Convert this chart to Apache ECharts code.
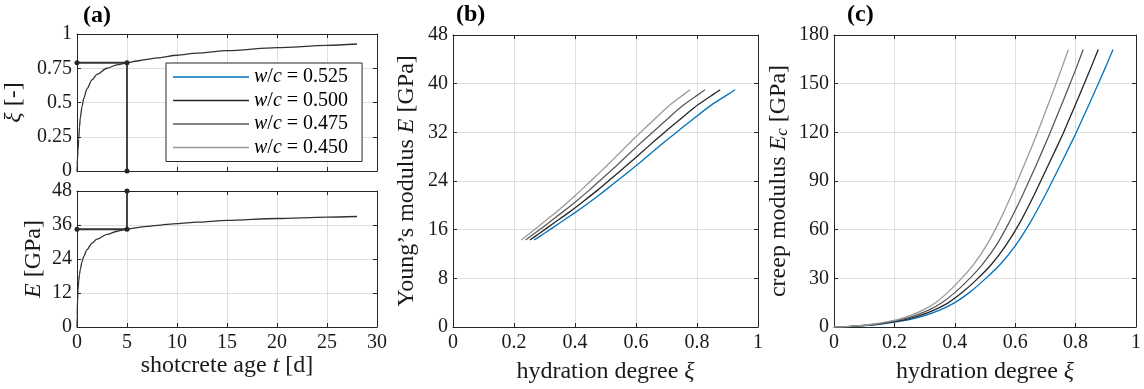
<!DOCTYPE html>
<html><head><meta charset="utf-8">
<script src="https://cdn.jsdelivr.net/npm/echarts@6/dist/echarts.min.js"></script>
<style>html,body{margin:0;padding:0;background:#fff}#c{width:1144px;height:389px}</style>
</head><body><div id="c"></div>
<script>
// ---------- data ----------
const ageDays = [0, 0.02, 0.05, 0.1, 0.17, 0.25, 0.33, 0.5, 0.67, 1, 1.5, 2, 3, 4, 5, 6, 7, 8, 10, 12, 15, 20, 25, 28];
const xiAge   = [0, 0.04, 0.09, 0.15, 0.23, 0.32, 0.39, 0.47, 0.53, 0.6, 0.665, 0.705, 0.75, 0.775, 0.79, 0.803, 0.815, 0.826, 0.845, 0.86, 0.878, 0.9, 0.917, 0.927];
const EAge    = [0, 4, 9, 13, 16.2, 18.5, 20.3, 23, 24.9, 27.3, 29.6, 31, 32.7, 33.8, 34.5, 35.1, 35.5, 35.9, 36.5, 37.0, 37.6, 38.3, 38.8, 39.0];
const markT   = [0, 5, 5];
const markXi  = [0.79, 0.79, 0];
const markE   = [34.5, 34.5, 48];

const wcNames  = ['w/c = 0.525', 'w/c = 0.500', 'w/c = 0.475', 'w/c = 0.450'];
const wcColors = ['#0072BD', '#262626', '#5a5a5a', '#9a9a9a'];

// panel (b): Young's modulus vs hydration degree
const EB     = [14.3, 15.4, 17.1, 18.8, 20.6, 22.5, 24.5, 26.5, 28.6, 30.7, 32.7, 34.7, 36.6, 38.2, 39.0];
const xiB525 = [0.266, 0.30, 0.35, 0.40, 0.45, 0.50, 0.55, 0.60, 0.65, 0.70, 0.75, 0.80, 0.85, 0.90, 0.925];
const xiB500 = [0.252, 0.284, 0.331, 0.379, 0.426, 0.474, 0.521, 0.568, 0.616, 0.663, 0.710, 0.758, 0.805, 0.852, 0.876];
const xiB475 = [0.238, 0.268, 0.313, 0.357, 0.402, 0.447, 0.491, 0.536, 0.580, 0.625, 0.670, 0.714, 0.759, 0.804, 0.826];
const xiB450 = [0.224, 0.252, 0.294, 0.336, 0.378, 0.420, 0.462, 0.504, 0.546, 0.588, 0.630, 0.672, 0.714, 0.756, 0.777];

// panel (c): creep modulus vs hydration degree
const EcC    = [0, 0.2, 0.8, 1.7, 3.0, 4.6, 7.0, 10.4, 15.0, 21.5, 29.5, 38.5, 50, 64.5, 81.5, 100, 119, 139.5, 160.5, 171];
const xiC525 = [0, 0.05, 0.1, 0.15, 0.2, 0.25, 0.3, 0.35, 0.4, 0.45, 0.5, 0.55, 0.6, 0.65, 0.7, 0.75, 0.8, 0.85, 0.9, 0.924];
const xiC500 = [0, 0.047, 0.095, 0.142, 0.189, 0.237, 0.284, 0.331, 0.379, 0.426, 0.474, 0.521, 0.568, 0.616, 0.663, 0.710, 0.758, 0.805, 0.852, 0.875];
const xiC475 = [0, 0.045, 0.089, 0.134, 0.179, 0.223, 0.268, 0.313, 0.357, 0.402, 0.447, 0.491, 0.536, 0.580, 0.625, 0.670, 0.714, 0.759, 0.804, 0.825];
const xiC450 = [0, 0.042, 0.084, 0.126, 0.168, 0.210, 0.252, 0.294, 0.336, 0.378, 0.420, 0.462, 0.504, 0.546, 0.588, 0.630, 0.672, 0.714, 0.756, 0.776];

// ---------- styling ----------
const FONT = 'Liberation Serif';
const INK = '#1a1a1a';
const FRAME = '#262626';
const GRIDC = '#dfdfdf';
const NAME_FS = 24;
const zip = (a, b) => a.map((v, i) => [v, b[i]]);
const richName = {
  i: { fontFamily: FONT, fontStyle: 'italic', fontSize: NAME_FS, color: INK },
  s: { fontFamily: FONT, fontStyle: 'italic', fontSize: 17, color: INK, verticalAlign: 'bottom' }
};
const nameStyle = { fontFamily: FONT, fontSize: NAME_FS, color: INK, rich: richName };

function axisPair(dim, gi, min, max, interval, showLabel, name, nameGap) {
  const main = {
    type: 'value', gridIndex: gi, min, max, interval,
    position: dim === 'x' ? 'bottom' : 'left',
    axisLine: { show: true, onZero: false, lineStyle: { color: FRAME, width: 1 } },
    axisTick: { show: true, inside: true, length: 4, lineStyle: { color: FRAME, width: 1 } },
    axisLabel: { show: showLabel, margin: dim === 'x' ? 6 : 5, fontFamily: FONT, fontSize: 20, color: INK },
    splitLine: { show: true, lineStyle: { color: GRIDC, width: 1 } },
    name: name || '', nameLocation: 'middle', nameGap: nameGap || 0, nameTextStyle: nameStyle
  };
  const mirror = {
    type: 'value', gridIndex: gi, min, max, interval,
    position: dim === 'x' ? 'top' : 'right',
    axisLine: { show: true, onZero: false, lineStyle: { color: FRAME, width: 1 } },
    axisTick: { show: true, inside: true, length: 4, lineStyle: { color: FRAME, width: 1 } },
    axisLabel: { show: false }, splitLine: { show: false }
  };
  return [main, mirror];
}

const xAxis = [
  ...axisPair('x', 0, 0, 30, 5, false),
  ...axisPair('x', 1, 0, 30, 5, true, 'shotcrete age {i|t} [d]', 26),
  ...axisPair('x', 2, 0, 1, 0.2, true, 'hydration degree {i|ξ}', 33),
  ...axisPair('x', 3, 0, 1, 0.2, true, 'hydration degree {i|ξ}', 33)
];
const yAxis = [
  ...axisPair('y', 0, 0, 1, 0.25, true, '{i|ξ} [-]', 51),
  ...axisPair('y', 1, 0, 48, 12, true, '{i|E} [GPa]', 31),
  ...axisPair('y', 2, 0, 48, 8, true, 'Young’s modulus {i|E} [GPa]', 34),
  ...axisPair('y', 3, 0, 180, 30, true, 'creep modulus {i|E}{s|c} [GPa]', 43)
];

const series = [];
const plain = (data, xi, yi, color, width, mono) => {
  const s = {
    type: 'line', data, xAxisIndex: xi, yAxisIndex: yi, showSymbol: false, symbol: 'none',
    smooth: mono ? 0.3 : 0.15, lineStyle: { color, width }, itemStyle: { color }, z: 3
  };
  if (mono) s.smoothMonotone = 'x';
  return s;
};
series.push(plain(zip(ageDays, xiAge), 0, 0, '#333333', 1.3, true));
series.push(plain(zip(ageDays, EAge), 2, 2, '#333333', 1.3, true));
const marker = (data, xi, yi) => ({
  type: 'line', data, xAxisIndex: xi, yAxisIndex: yi, symbol: 'circle', symbolSize: 5, showSymbol: true,
  clip: false, lineStyle: { color: '#333333', width: 1.8 }, itemStyle: { color: '#262626' }, z: 4
});
series.push(marker(zip(markT, markXi), 0, 0));
series.push(marker(zip(markT, markE), 2, 2));

const xiBs = [xiB525, xiB500, xiB475, xiB450];
const xiCs = [xiC525, xiC500, xiC475, xiC450];
wcNames.forEach((n, k) => {
  series.push(Object.assign(plain(zip(xiBs[k], EB), 4, 4, wcColors[k], 1.3), { name: n }));
  series.push(Object.assign(plain(zip(xiCs[k], EcC), 6, 6, wcColors[k], 1.3), { name: n }));
});

const titleStyle = { fontFamily: FONT, fontSize: 24, fontWeight: 'bold', color: '#000' };
const option = {
  animation: false,
  backgroundColor: '#fff',
  title: [
    { text: '(a)', left: 83, top: 4, padding: 0, textStyle: titleStyle },
    { text: '(b)', left: 456, top: 3, padding: 0, textStyle: titleStyle },
    { text: '(c)', left: 847, top: 3, padding: 0, textStyle: titleStyle }
  ],
  grid: [
    { left: 77, top: 34, width: 300, height: 137 },
    { left: 77, top: 191, width: 300, height: 136 },
    { left: 453, top: 35, width: 305, height: 292 },
    { left: 834, top: 35, width: 306, height: 292 }
  ],
  xAxis, yAxis,
  legend: {
    data: wcNames, orient: 'vertical', left: 166, top: 63,
    padding: [4, 14, 4, 7], itemGap: 3.5, itemWidth: 76, itemHeight: 1.5, icon: 'rect',
    backgroundColor: '#fff', borderColor: FRAME, borderWidth: 1, borderRadius: 0,
    selectedMode: false, z: 10,
    formatter: n => n.replace('w/c', '{i|w}/{i|c}'),
    textStyle: { fontFamily: FONT, fontSize: 20, lineHeight: 20, color: '#000',
      rich: { i: { fontFamily: FONT, fontStyle: 'italic', fontSize: 20, lineHeight: 20, color: '#000' } } }
  },
  series
};
echarts.init(document.getElementById('c'), null, { renderer: 'canvas' }).setOption(option);
</script>
</body></html>
